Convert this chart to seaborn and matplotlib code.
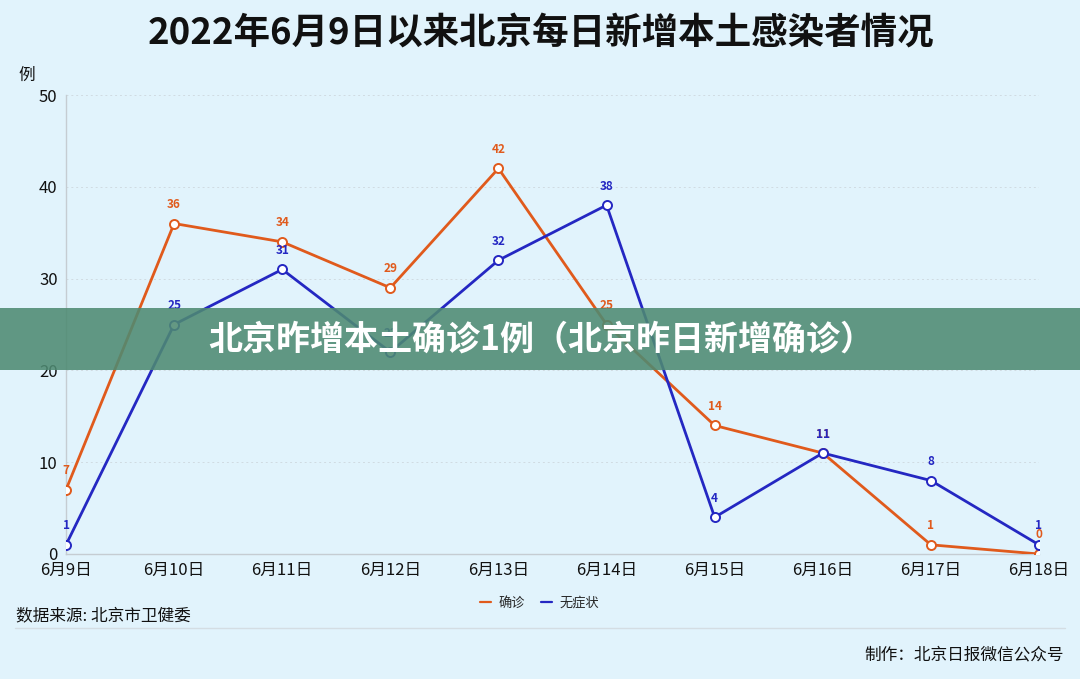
import numpy as np
import pandas as pd
import matplotlib
matplotlib.use("Agg")
import matplotlib.pyplot as plt
from matplotlib.lines import Line2D
from matplotlib.patches import Rectangle
import seaborn as sns

dates = ["6月9日", "6月10日", "6月11日", "6月12日", "6月13日",
         "6月14日", "6月15日", "6月16日", "6月17日", "6月18日"]
confirmed = [7, 36, 34, 29, 42, 25, 14, 11, 1, 0]
asymptomatic = [1, 25, 31, 22, 32, 38, 4, 11, 8, 1]
series_names = ["确诊", "无症状"]
yticks = [0, 10, 20, 30, 40, 50]

title = "2022年6月9日以来北京每日新增本土感染者情况"
banner = "北京昨增本土确诊1例（北京昨日新增确诊）"
source = "数据来源: 北京市卫健委"
credit = "制作：北京日报微信公众号"

BG = "#e1f3fc"
ORANGE = "#e05a1c"
BLUE = "#2427c2"

sns.set_theme(style="white")
plt.rcParams['font.family'] = ['Noto Sans CJK SC', 'DejaVu Sans']

df = pd.DataFrame({
    "x": list(range(len(dates))) * 2,
    "value": confirmed + asymptomatic,
    "series": [series_names[0]] * len(dates) + [series_names[1]] * len(dates),
})

fig = plt.figure(figsize=(10.8, 6.79), dpi=100, facecolor=BG)
ax = fig.add_axes([66 / 1080, 1 - 554 / 679, (1039 - 66) / 1080, (554 - 95) / 679])
ax.set_facecolor(BG)

palette = {series_names[0]: ORANGE, series_names[1]: BLUE}
sns.lineplot(data=df, x="x", y="value", hue="series", palette=palette, ax=ax,
             marker="o", markersize=6.5, markerfacecolor="white",
             markeredgewidth=1.4, linewidth=2, legend=False, zorder=3)
for ln in ax.get_lines():
    ln.set_markerfacecolor("white")
    ln.set_markeredgecolor(ln.get_color())

for vals, col in [(confirmed, ORANGE), (asymptomatic, BLUE)]:
    for i, v in enumerate(vals):
        ax.annotate(str(v), (i, v), xytext=(0, 9), textcoords="offset points",
                    ha="center", va="bottom", color=col, fontsize=8.5,
                    fontweight="bold", zorder=4)

ax.set_xlim(0, len(dates) - 1)
ax.set_ylim(0, 50)
ax.set_xticks(range(len(dates)))
ax.set_xticklabels(dates, fontsize=12, color="#111111")
ax.set_yticks(yticks)
ax.set_yticklabels([str(t) for t in yticks], fontsize=12, color="#111111")
ax.set_xlabel("")
ax.set_ylabel("")
ax.tick_params(axis="both", length=4, color="#c5ccd2", pad=2)
for s in ["top", "right"]:
    ax.spines[s].set_visible(False)
for s in ["left", "bottom"]:
    ax.spines[s].set_color("#c5ccd2")
    ax.spines[s].set_linewidth(1)
for t in yticks[1:]:
    ax.axhline(t, color="#d0dbe2", lw=0.7, ls=(0, (2, 3)), zorder=1)

fig.text(18 / 1080, 1 - 75 / 679, "例", fontsize=12, color="#111111", ha="left", va="center")

fig.text(541 / 1080, 1 - 33 / 679, title, fontsize=26.3, fontweight="heavy",
         color="#111111", ha="center", va="center")

handles = [Line2D([0], [0], color=ORANGE, lw=1.6),
           Line2D([0], [0], color=BLUE, lw=1.6)]
fig.legend(handles, series_names, loc="center", bbox_to_anchor=(0.5, 1 - 603 / 679),
           ncol=2, frameon=False, fontsize=9.5, handlelength=0.8, handletextpad=0.6,
           columnspacing=1.2)

fig.text(16 / 1080, 1 - 616 / 679, source, fontsize=12, color="#111111",
         ha="left", va="center")
fig.add_artist(Line2D([15 / 1080, 1065 / 1080], [1 - 628 / 679, 1 - 628 / 679],
                      color="#d4dde3", lw=1, transform=fig.transFigure))
fig.text(1064 / 1080, 1 - 655 / 679, credit, fontsize=12, color="#111111",
         ha="right", va="center")

fig.add_artist(Rectangle((0, 1 - 370 / 679), 1, 62 / 679, transform=fig.transFigure,
                         facecolor="#4e8a72", alpha=0.88, edgecolor="none", zorder=10))
fig.text(541 / 1080, 1 - 339 / 679, banner, fontsize=24.5, fontweight="bold", color="white",
         ha="center", va="center", zorder=11)

fig.savefig("out.png", dpi=100, facecolor=BG)
